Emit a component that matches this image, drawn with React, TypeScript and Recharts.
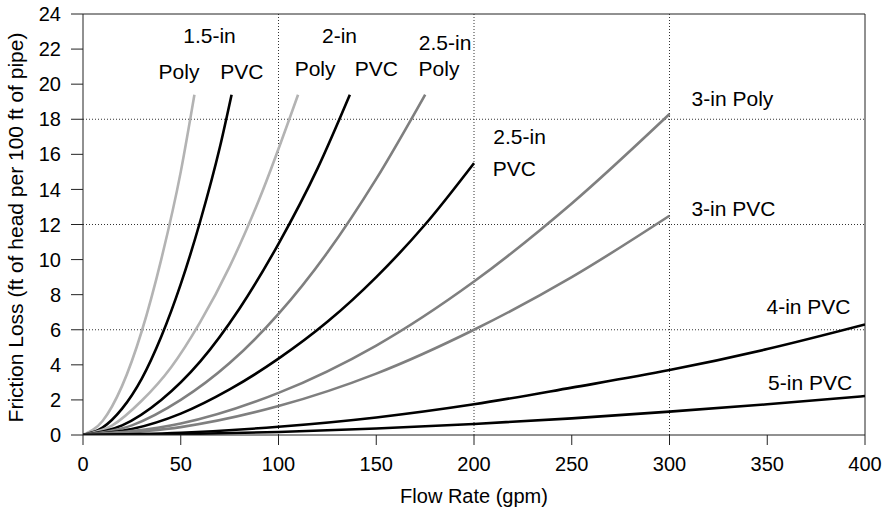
import React from 'react';
import { LineChart, Line, XAxis, YAxis, ReferenceLine, ReferenceDot } from 'recharts';

const FONT = '"Liberation Sans", Arial, Helvetica, sans-serif';

const xTicks = [0, 50, 100, 150, 200, 250, 300, 350, 400];
const yTicks = [0, 2, 4, 6, 8, 10, 12, 14, 16, 18, 20, 22, 24];
const gridX = [100, 200, 300];
const gridY = [6, 12, 18];

// [flow gpm, friction loss]
const poly15 = [[0, 0], [10, 0.8], [20, 2.8], [30, 5.9], [40, 10.0], [50, 15.0], [57, 19.4]];
const pvc15 = [[0, 0], [10, 0.42], [20, 1.5], [30, 3.2], [40, 5.6], [50, 8.6], [60, 12.2], [70, 16.4], [76, 19.4]];
const poly2 = [[0, 0], [15, 0.55], [30, 1.95], [45, 3.85], [60, 6.45], [75, 9.6], [90, 13.4], [110, 19.4]];
const pvc2 = [[0, 0], [20, 0.55], [40, 2.0], [60, 4.2], [80, 7.2], [100, 10.9], [120, 15.2], [136.5, 19.4]];
const poly25 = [[0, 0], [25, 0.55], [50, 2.0], [75, 4.1], [100, 6.9], [125, 10.4], [150, 14.6], [175, 19.4]];
const pvc25 = [[0, 0], [25, 0.34], [50, 1.22], [75, 2.6], [100, 4.35], [125, 6.45], [150, 9.0], [175, 12.0], [200, 15.5]];
const poly3 = [[0, 0], [50, 0.65], [100, 2.4], [150, 5.1], [200, 8.75], [250, 13.2], [300, 18.3]];
const pvc3 = [[0, 0], [50, 0.45], [100, 1.65], [150, 3.5], [200, 6.0], [250, 9.0], [300, 12.5]];
const pvc4 = [[0, 0], [50, 0.13], [100, 0.47], [150, 1.0], [200, 1.75], [250, 2.7], [300, 3.7], [350, 4.9], [400, 6.3]];
const pvc5 = [[0, 0], [50, 0.05], [100, 0.17], [150, 0.37], [200, 0.63], [250, 0.95], [300, 1.33], [350, 1.75], [400, 2.22]];

const LIGHT = '#b3b3b3';
const MID = '#7f7f7f';
const DARK = '#000000';

const curves = [
  { name: '1.5-in Poly', points: poly15, color: LIGHT },
  { name: '1.5-in PVC', points: pvc15, color: DARK },
  { name: '2-in Poly', points: poly2, color: LIGHT },
  { name: '2-in PVC', points: pvc2, color: DARK },
  { name: '2.5-in Poly', points: poly25, color: MID },
  { name: '2.5-in PVC', points: pvc25, color: DARK },
  { name: '3-in Poly', points: poly3, color: MID },
  { name: '3-in PVC', points: pvc3, color: MID },
  { name: '4-in PVC', points: pvc4, color: DARK },
  { name: '5-in PVC', points: pvc5, color: DARK },
];

// curve labels, placed in data units (text centre)
const labels = [
  { text: '1.5-in', x: 64.7, y: 22.75 },
  { text: 'Poly', x: 49.1, y: 20.7 },
  { text: 'PVC', x: 81.3, y: 20.7 },
  { text: '2-in', x: 131.2, y: 22.75 },
  { text: 'Poly', x: 118.7, y: 20.87 },
  { text: 'PVC', x: 150.1, y: 20.87 },
  { text: '2.5-in', x: 185.2, y: 22.4 },
  { text: 'Poly', x: 182.1, y: 20.87 },
  { text: '2.5-in', x: 223.3, y: 17.0 },
  { text: 'PVC', x: 220.7, y: 15.2 },
  { text: '3-in Poly', x: 332.2, y: 19.2 },
  { text: '3-in PVC', x: 332.7, y: 12.9 },
  { text: '4-in PVC', x: 371.1, y: 7.3 },
  { text: '5-in PVC', x: 371.9, y: 3.02 },
];

const toRows = (pts: number[][]) => pts.map(([x, y]) => ({ x, y }));

export default function App() {
  const tickStyle = { fill: '#000', fontSize: 20, fontFamily: FONT };
  return (
    <div style={{ position: 'absolute', left: 0, top: 0, background: '#fff' }}>
      <LineChart width={886} height={512} margin={{ top: 14, right: 21, left: 23, bottom: 27 }}>
        <XAxis
          dataKey="x"
          type="number"
          domain={[0, 400]}
          ticks={xTicks}
          allowDataOverflow
          height={50}
          tickSize={10}
          tickMargin={12}
          tick={tickStyle}
          stroke="#222"
          label={{ value: 'Flow Rate (gpm)', position: 'bottom', offset: 4, fill: '#000', fontSize: 20, fontFamily: FONT }}
        />
        <YAxis
          type="number"
          domain={[0, 24]}
          ticks={yTicks}
          allowDataOverflow
          width={60}
          tickSize={12}
          tickMargin={10}
          tick={tickStyle}
          stroke="#222"
          label={{
            content: ({ viewBox }: any) => {
              const cx = 15;
              const cy = viewBox.y + viewBox.height / 2 + 3;
              return (
                <text
                  x={cx}
                  y={cy}
                  transform={`rotate(-90 ${cx} ${cy})`}
                  textAnchor="middle"
                  dominantBaseline="central"
                  fontSize={21}
                  fontFamily={FONT}
                  fill="#000"
                >
                  Friction Loss (ft of head per 100 ft of pipe)
                </text>
              );
            },
          }}
        />
        {gridX.map((v) => (
          <ReferenceLine key={`gx${v}`} x={v} stroke="#333" strokeDasharray="1 2" />
        ))}
        {gridY.map((v) => (
          <ReferenceLine key={`gy${v}`} y={v} stroke="#333" strokeDasharray="1 2" />
        ))}
        <ReferenceLine y={24} stroke="#222" />
        <ReferenceLine x={400} stroke="#222" />
        {curves.map((c) => (
          <Line
            key={c.name}
            data={toRows(c.points)}
            dataKey="y"
            name={c.name}
            type="monotone"
            stroke={c.color}
            strokeWidth={2.6}
            dot={false}
            activeDot={false}
            isAnimationActive={false}
          />
        ))}
        {labels.map((l, i) => (
          <ReferenceDot
            key={`lb${i}`}
            x={l.x}
            y={l.y}
            r={0}
            shape={(p: any) => (
              <text
                x={p.cx}
                y={p.cy}
                textAnchor="middle"
                dominantBaseline="central"
                fontSize={21}
                fontFamily={FONT}
                fill="#000"
              >
                {l.text}
              </text>
            )}
          />
        ))}
      </LineChart>
    </div>
  );
}
